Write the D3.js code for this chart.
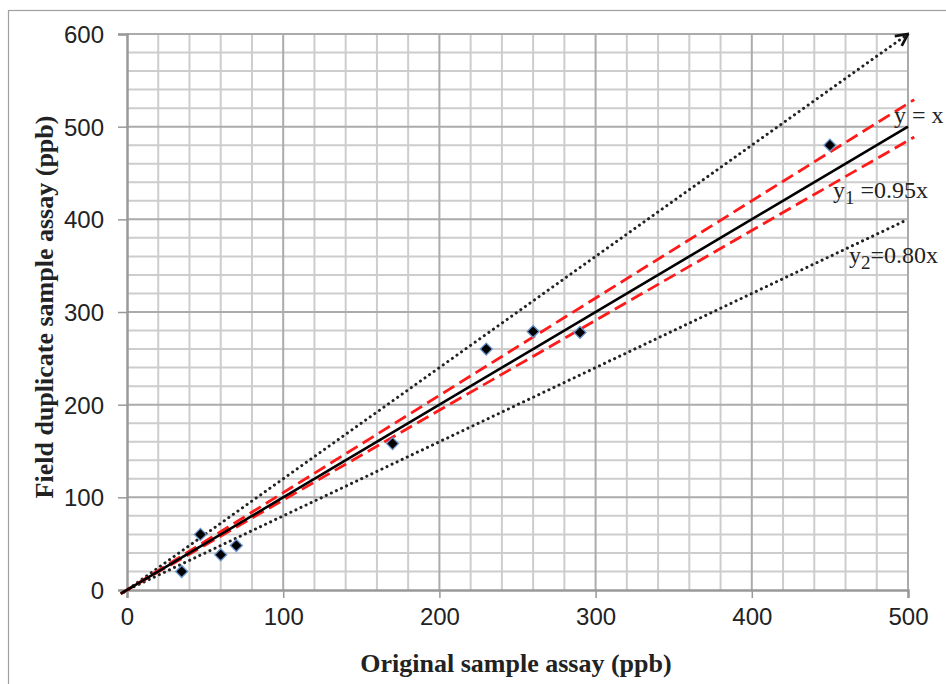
<!DOCTYPE html>
<html>
<head>
<meta charset="utf-8">
<script src="https://cdn.jsdelivr.net/npm/d3@7"></script>
<style>
  body { margin: 0; background: #fff; }
  svg { display: block; }
</style>
</head>
<body>
<div id="chart"></div>
<script>
// Data
const originalAssay = [35, 47, 60, 70, 170, 230, 260, 290, 450];
const duplicateAssay = [20, 60, 38, 48, 158, 260, 279, 278, 480];
const xTicks = [0, 100, 200, 300, 400, 500];
const yTicks = [0, 100, 200, 300, 400, 500, 600];
// reference lines (slopes as drawn)
const lineSlopes = { upperDot: 1.2, upperRed: 1.05, identity: 1.0, lowerRed: 0.97, lowerDot: 0.8 };

const width = 946;
const height = 684;
const margin = { left: 127, top: 34, right: 38, bottom: 94 };

const svg = d3.select('#chart')
  .append('svg')
  .attr('width', width)
  .attr('height', height);

// outer frame (only left and top edges are visible)
svg.append('rect')
  .attr('x', 8.5).attr('y', 10.5)
  .attr('width', 960).attr('height', 700)
  .attr('fill', 'none')
  .attr('stroke', '#a0a0a0')
  .attr('stroke-width', 1.2);

const x = d3.scaleLinear().domain([0, 500]).range([margin.left, width - margin.right]);
const y = d3.scaleLinear().domain([0, 600]).range([height - margin.bottom, margin.top]);

// grid
const grid = svg.append('g');
grid.selectAll('.vminor')
  .data(d3.range(20, 500, 20).filter(d => d % 100 !== 0))
  .enter().append('line')
  .attr('x1', d => x(d)).attr('x2', d => x(d))
  .attr('y1', y(0)).attr('y2', y(600))
  .attr('stroke', '#cdcdcd').attr('stroke-width', 2);
grid.selectAll('.hminor')
  .data(d3.range(20, 600, 20).filter(d => d % 100 !== 0))
  .enter().append('line')
  .attr('x1', x(0)).attr('x2', x(500))
  .attr('y1', d => y(d)).attr('y2', d => y(d))
  .attr('stroke', '#cdcdcd').attr('stroke-width', 2);
grid.selectAll('.vmajor')
  .data(xTicks.slice(1))
  .enter().append('line')
  .attr('x1', d => x(d)).attr('x2', d => x(d))
  .attr('y1', y(0)).attr('y2', y(600))
  .attr('stroke', '#ababab').attr('stroke-width', 2);
grid.selectAll('.hmajor')
  .data(yTicks.slice(1))
  .enter().append('line')
  .attr('x1', x(0)).attr('x2', x(500))
  .attr('y1', d => y(d)).attr('y2', d => y(d))
  .attr('stroke', '#ababab').attr('stroke-width', 2);

// axes
const xAxis = svg.append('g')
  .attr('transform', `translate(0,${y(0)})`)
  .call(d3.axisBottom(x).tickValues(xTicks).tickSize(8).tickPadding(10));
const yAxis = svg.append('g')
  .attr('transform', `translate(${x(0)},0)`)
  .call(d3.axisLeft(y).tickValues(yTicks).tickSize(9).tickPadding(14));

[xAxis, yAxis].forEach(ax => {
  ax.select('.domain').attr('stroke', '#999').attr('stroke-width', 2.5);
  ax.selectAll('.tick line').attr('stroke', '#999').attr('stroke-width', 1.5);
  ax.selectAll('.tick text')
    .attr('fill', '#222')
    .style('font-family', '"Liberation Sans Narrow", "Liberation Sans", sans-serif')
    .style('font-size', '24px');
});
yAxis.selectAll('.tick text').attr('dy', '0.36em');
xAxis.selectAll('.tick text').attr('dy', '0.72em');

// reference lines
const refLine = (slope, x0, x1) => d3.line()([[x(x0), y(slope * x0)], [x(x1), y(slope * x1)]]);
const lines = svg.append('g').attr('fill', 'none');

svg.append('defs').append('marker')
  .attr('id', 'arrow')
  .attr('viewBox', '0 0 10 10')
  .attr('refX', 9).attr('refY', 5)
  .attr('markerWidth', 5).attr('markerHeight', 5)
  .attr('markerUnits', 'strokeWidth')
  .attr('orient', 'auto')
  .append('path')
  .attr('d', 'M1,1 L9,5 L1,9')
  .attr('fill', 'none')
  .attr('stroke', '#111')
  .attr('stroke-width', 1.8);

lines.append('path')
  .attr('d', refLine(lineSlopes.lowerDot, -2, 500))
  .attr('stroke', '#222').attr('stroke-width', 3)
  .attr('stroke-linecap', 'round').attr('stroke-dasharray', '0.1 5.5');
lines.append('path')
  .attr('d', refLine(lineSlopes.upperDot, -2, 500))
  .attr('stroke', '#222').attr('stroke-width', 3)
  .attr('stroke-linecap', 'round').attr('stroke-dasharray', '0.1 5.5')
  .attr('marker-end', 'url(#arrow)');
lines.append('path')
  .attr('d', refLine(lineSlopes.upperRed, -4, 504))
  .attr('stroke', '#ff1a1a').attr('stroke-width', 2.8)
  .attr('stroke-dasharray', '13 6');
lines.append('path')
  .attr('d', refLine(lineSlopes.lowerRed, -4, 504))
  .attr('stroke', '#ff1a1a').attr('stroke-width', 2.8)
  .attr('stroke-dasharray', '13 6');
lines.append('path')
  .attr('d', refLine(lineSlopes.identity, -4, 500))
  .attr('stroke', '#000').attr('stroke-width', 2.6);

// data points (diamonds = rotated squares)
const points = originalAssay.map((d, i) => ({ x: d, y: duplicateAssay[i] }));
svg.append('g')
  .selectAll('path')
  .data(points)
  .enter()
  .append('path')
  .attr('d', d3.symbol().type(d3.symbolSquare).size(72))
  .attr('transform', d => `translate(${x(d.x)},${y(d.y)}) rotate(45)`)
  .attr('fill', '#000')
  .attr('stroke', '#6a94cc')
  .attr('stroke-width', 1.3);

// equation labels
const eq = svg.append('g')
  .style('font-family', '"Liberation Serif", "Times New Roman", serif')
  .style('font-size', '24px')
  .attr('fill', '#222');
eq.append('text').attr('x', 894).attr('y', 123).text('y = x');
const t1 = eq.append('text').attr('x', 833).attr('y', 198);
t1.append('tspan').text('y');
t1.append('tspan').attr('dy', 6).style('font-size', '19px').text('1');
t1.append('tspan').attr('dy', -6).text(' =0.95x');
const t2 = eq.append('text').attr('x', 849).attr('y', 263);
t2.append('tspan').text('y');
t2.append('tspan').attr('dy', 6).style('font-size', '19px').text('2');
t2.append('tspan').attr('dy', -6).text('=0.80x');

// axis titles
svg.append('text')
  .attr('x', 516).attr('y', 672)
  .attr('text-anchor', 'middle')
  .style('font-family', '"Liberation Serif", "Times New Roman", serif')
  .style('font-weight', 'bold')
  .style('font-size', '26px')
  .attr('fill', '#222')
  .text('Original sample assay (ppb)');

svg.append('text')
  .attr('transform', 'translate(53,307) rotate(-90)')
  .attr('text-anchor', 'middle')
  .style('font-family', '"Liberation Serif", "Times New Roman", serif')
  .style('font-weight', 'bold')
  .style('font-size', '26px')
  .attr('fill', '#222')
  .text('Field duplicate sample assay (ppb)');
</script>
</body>
</html>
